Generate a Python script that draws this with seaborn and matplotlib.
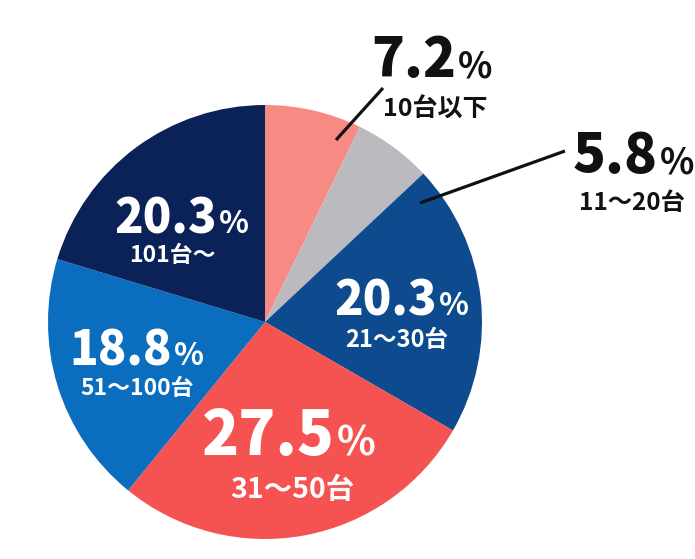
import matplotlib
matplotlib.use("Agg")
import matplotlib.pyplot as plt
import seaborn as sns

# データ（台数別の構成比）
shares = [7.2, 5.8, 20.3, 27.5, 18.8, 20.3]
pct_labels = ["7.2", "5.8", "20.3", "27.5", "18.8", "20.3"]
cat_labels = ["10台以下", "11〜20台", "21〜30台", "31〜50台", "51〜100台", "101台〜"]
colors = ["#F88A84", "#BBBBBF", "#0D4A8E", "#F55252", "#0B6DBE", "#0B2258"]

sns.set_theme(style="white")
plt.rcParams['font.family'] = ['Noto Sans CJK JP', 'DejaVu Sans']
FAM = ['Noto Sans CJK JP', 'DejaVu Sans']

W, H = 695, 559
CX, CY, R = 265, 322, 217


def p2d(px, py):
    # ピクセル位置 -> データ座標（半径=1）
    return (px - CX) / R, (CY - py) / R


fig = plt.figure(figsize=(W / 100, H / 100), dpi=100)
ax = fig.add_axes([0, 0, 1, 1])
ax.pie(shares, colors=sns.color_palette(colors), startangle=90, counterclock=False,
       radius=1, center=(0, 0), wedgeprops={'linewidth': 0})
ax.set_xlim(-CX / R, (W - CX) / R)
ax.set_ylim(-(H - CY) / R, CY / R)
ax.set_aspect('equal')
ax.axis('off')

# ラベル配置（数字と%の境目x, ベースラインy, 数字サイズ, サブラベル中心x, ベースラインy, サイズ, 色）
layout = [
    (456, 77, 39, 435, 117, 18, '#111111'),
    (658, 173, 39, 632, 210, 17.5, '#111111'),
    (437, 315, 34, 397, 347, 17, 'white'),
    (335, 455, 44, 292, 498, 20.5, 'white'),
    (172, 365, 34, 137, 395, 16.5, 'white'),
    (217, 233, 34, 172, 262, 16.5, 'white'),
]

for num, cat, (sx, by, fs, cx, cby, cfs, col) in zip(pct_labels, cat_labels, layout):
    x, y = p2d(sx, by)
    ax.text(x, y, num, ha='right', va='baseline', fontsize=fs, fontweight='black',
            family=FAM, color=col)
    ax.text(x + 2 / R, y, '%', ha='left', va='baseline', fontsize=fs * 0.66,
            fontweight='bold', family=FAM, color=col)
    x2, y2 = p2d(cx, cby)
    ax.text(x2, y2, cat, ha='center', va='baseline', fontsize=cfs, fontweight='bold',
            family=FAM, color=col)

# 引き出し線
for (x0, y0), (x1, y1) in [((383, 88), (336, 140)), ((565, 151), (420, 203))]:
    a, b = p2d(x0, y0)
    c, d = p2d(x1, y1)
    ax.plot([a, c], [b, d], color='#111111', lw=2.3, solid_capstyle='butt')

fig.savefig('out.png', dpi=100)
